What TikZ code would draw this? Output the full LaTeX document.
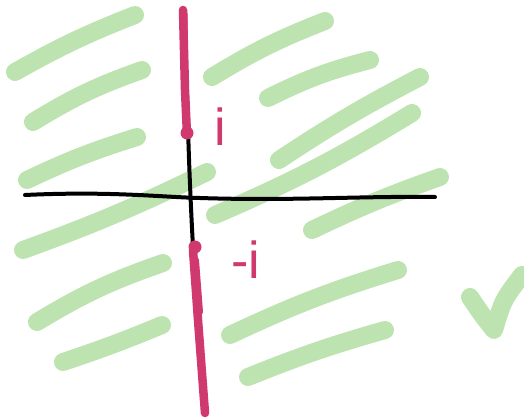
\documentclass[tikz,border=0pt]{standalone}
\usepackage{fontspec}
\setmainfont{Liberation Sans}
\definecolor{hatch}{RGB}{189,227,176}
\definecolor{cut}{RGB}{207,57,110}
\begin{document}
\begin{tikzpicture}[x=1pt,y=-1pt,
  hatchline/.style={draw=hatch,line width=18pt,line cap=round,line join=round},
  axisline/.style={draw=black,line width=4pt,line cap=round},
  cutline/.style={draw=cut,line width=8.5pt,line cap=round,line join=round},
  lbl/.style={text=cut,font=\fontsize{52}{52}\selectfont,inner sep=0pt}]
\useasboundingbox (0,0) rectangle (524,419);
% hatching (left)
\draw[hatchline] (15,72) to[bend left=4] (135,15);
\draw[hatchline] (33,122) to[bend left=6] (142,70);
\draw[hatchline] (27,180) to[bend left=4] (137,137);
\draw[hatchline] (23,250) to[bend right=3] (207,172);
\draw[hatchline] (37,322) to[bend left=6] (163,263);
\draw[hatchline] (63,362) to[bend right=2] (162,325);
% hatching (right)
\draw[hatchline] (212,77) to[bend left=5] (325,21);
\draw[hatchline] (268,98) to[bend left=6] (370,60);
\draw[hatchline] (279,160) to[bend left=3] (420,77);
\draw[hatchline] (215,215) to[bend right=4] (412,113);
\draw[hatchline] (312,230) to[bend left=3] (440,177);
\draw[hatchline] (230,335) to[bend left=4] (398,270);
\draw[hatchline] (248,377) to[bend left=3] (385,330);
% check mark
\draw[hatchline] (470,297) .. controls (482,315) .. (494,330) .. controls (503,300) .. (522,275);
% axes
\coordinate (xl) at (25,195);
\coordinate (xr) at (435,197);
\coordinate (yt) at (188,127);
\coordinate (yb) at (203,385);
\draw[axisline] (xl) .. controls (110,191) and (160,197) .. (200,198) .. controls (290,201) and (360,196) .. (xr);
\draw[axisline] (yt) .. controls (190,200) and (195,300) .. (yb);
% branch cuts
\draw[cutline] (183,10) -- (185,90) -- (187,135);
\draw[cut,line width=5pt,line cap=round] (185,14) -- (186,120);
\fill[cut] (187,133) circle (6.5pt);
\draw[cutline] (193,250) -- (198,320) -- (205,413);
\draw[cut,line width=6pt,line cap=round] (196,260) -- (200,312);
\fill[cut] (195,247) circle (6.5pt);
% labels
\node[lbl] (ip) at (220,127) {i};
\node[lbl] (im) at (246,260) {-i};
\end{tikzpicture}
\end{document}
